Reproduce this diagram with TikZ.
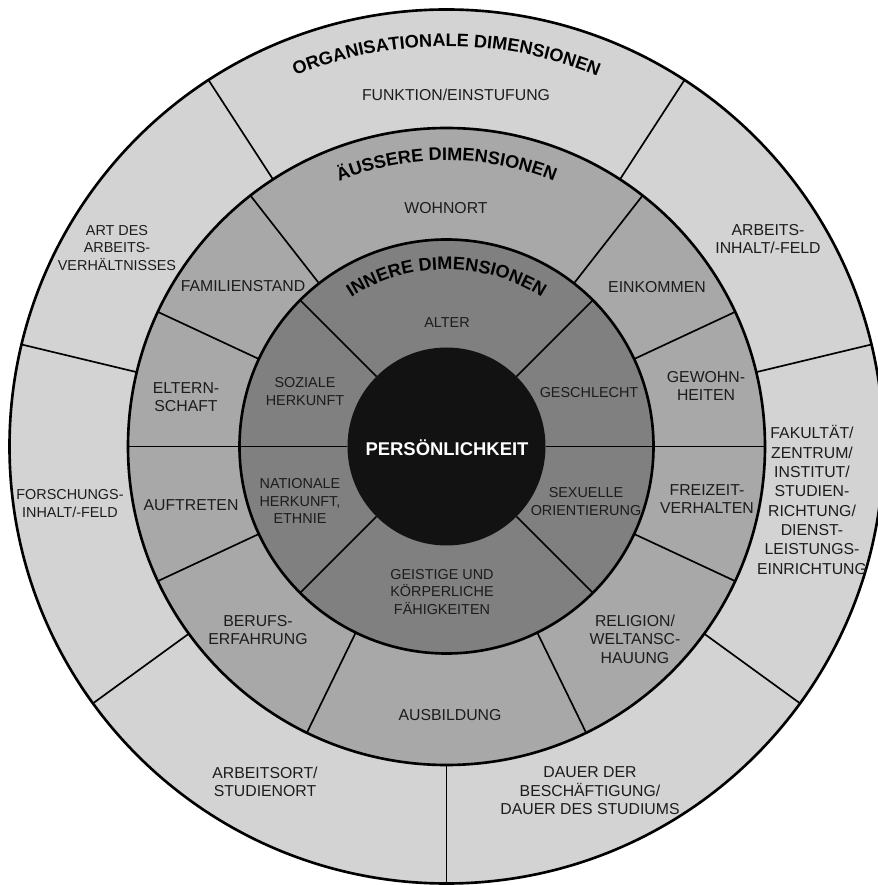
\documentclass[tikz,border=0pt]{standalone}
\usepackage{fontspec}
\setmainfont{Liberation Sans}
\usetikzlibrary{decorations.text}
\definecolor{ringA}{RGB}{211,211,211}
\definecolor{ringB}{RGB}{168,168,168}
\definecolor{ringC}{RGB}{128,128,128}
\definecolor{coreC}{RGB}{18,18,18}
\definecolor{txt}{RGB}{28,28,28}
\newcommand\titlefnt{\fontsize{10.3}{12}\selectfont\bfseries}
\begin{document}
\begin{tikzpicture}[x=0.02cm,y=0.02cm,
  ringline/.style={line width=1.5pt},
  divline/.style={line width=0.95pt},
  lbl/.style={inner sep=0pt, align=center, text=txt, font=\fontsize{9}{10.5}\selectfont},
  lblsm/.style={lbl, font=\fontsize{8.2}{10.2}\selectfont},
  lblin/.style={lbl, font=\fontsize{8.2}{10.2}\selectfont},
  arctitle/.style={decorate, decoration={text along path, text align=center, text={|\titlefnt|#1}}}
  ]
\clip (-446.5,-438.5) rectangle (431.5,446.5);
\fill[white] (-446.5,-438.5) rectangle (431.5,446.5);
% rings
\fill[ringA] (0,0) circle[radius=437];
\fill[ringB] (0,0) circle[radius=318.5];
\fill[ringC] (0,0) circle[radius=207];
\fill[coreC] (0,0) circle[radius=99];
% dividers
\foreach \a in {57,123,166.5,216,270,324,13.5}
  \draw[divline] (\a:318.5) -- (\a:437);
\foreach \a in {52,128,155,180,205,244,296,335,0,25}
  \draw[divline] (\a:207) -- (\a:318.5);
\foreach \a in {0,45,135,180,225,315}
  \draw[divline] (\a:99) -- (\a:207);
% ring outlines
\draw[ringline] (0,0) circle[radius=437];
\draw[ringline] (0,0) circle[radius=318.5];
\draw[ringline] (0,0) circle[radius=207];
% titles along arcs
\path[arctitle={ORGANISATIONALE DIMENSIONEN}] (180:400) arc[start angle=180, end angle=0, radius=400];
\path[arctitle={ÄUSSERE DIMENSIONEN}] (180:286) arc[start angle=180, end angle=0, radius=286];
\path[arctitle={INNERE DIMENSIONEN}] (180:177) arc[start angle=180, end angle=0, radius=177];
% outer ring labels
\node[lbl] (funktion) at (9.5,351.5) {FUNKTION/EINSTUFUNG};
\node[lblsm] (artdes) at (-329.5,198.5) {ART DES\\ARBEITS-\\VERHÄLTNISSES};
\node[lbl] (arbinh) at (321.5,207.5) {ARBEITS-\\INHALT/-FELD};
\node[lblsm] (forsch) at (-376.5,-57.5) {FORSCHUNGS-\\INHALT/-FELD};
\node[lbl, font=\fontsize{9}{11}\selectfont] (fak) at (365.5,-53.5) {FAKULTÄT/\\ZENTRUM/\\INSTITUT/\\STUDIEN-\\RICHTUNG/\\DIENST-\\LEISTUNGS-\\EINRICHTUNG};
\node[lbl] (arbort) at (-181.5,-335.5) {ARBEITSORT/\\STUDIENORT};
\node[lbl] (dauer) at (143.5,-344.5) {DAUER DER\\BESCHÄFTIGUNG/\\DAUER DES STUDIUMS};
% middle ring labels
\node[lbl] (wohnort) at (-0.5,238.5) {WOHNORT};
\node[lbl] (famstand) at (-203.5,160.5) {FAMILIENSTAND};
\node[lbl] (einkommen) at (210.5,159.5) {EINKOMMEN};
\node[lbl] (eltern) at (-260.5,49.5) {ELTERN-\\SCHAFT};
\node[lbl] (gewohn) at (259.5,60.5) {GEWOHN-\\HEITEN};
\node[lbl] (auftreten) at (-255.5,-58.5) {AUFTRETEN};
\node[lbl] (freizeit) at (260.5,-52.5) {FREIZEIT-\\VERHALTEN};
\node[lbl] (berufs) at (-188.5,-183.5) {BERUFS-\\ERFAHRUNG};
\node[lbl] (ausbildung) at (3.5,-268.5) {AUSBILDUNG};
\node[lbl] (religion) at (188.5,-192.5) {RELIGION/\\WELTANSC-\\HAUUNG};
% inner ring labels
\node[lblin] (alter) at (0.5,123.5) {ALTER};
\node[lblin] (soziale) at (-141.5,54.5) {SOZIALE\\HERKUNFT};
\node[lblin] (geschlecht) at (142.5,53.5) {GESCHLECHT};
\node[lblin] (nationale) at (-146.5,-54.5) {NATIONALE\\HERKUNFT,\\ETHNIE};
\node[lblin] (sexuelle) at (139.5,-55.5) {SEXUELLE\\ORIENTIERUNG};
\node[lblin] (geistige) at (-4.5,-145.5) {GEISTIGE UND\\KÖRPERLICHE\\FÄHIGKEITEN};
% core
\node[inner sep=0pt, text=white, font=\fontsize{10.5}{12}\selectfont\bfseries] (person) at (0.5,-1.5) {PERSÖNLICHKEIT};
\end{tikzpicture}
\end{document}
